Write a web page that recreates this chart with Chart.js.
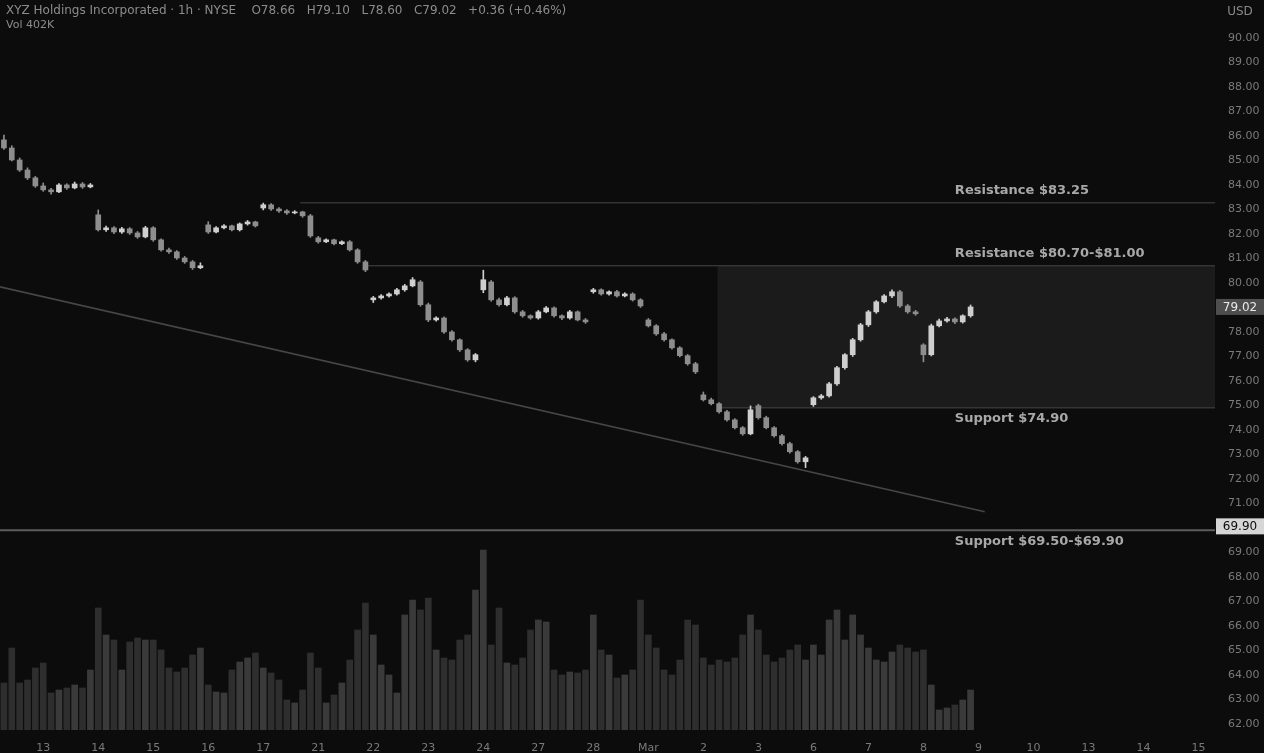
<!DOCTYPE html>
<html>
<head>
<meta charset="utf-8">
<script src="https://cdn.jsdelivr.net/npm/chart.js@4.4.0/dist/chart.umd.min.js"></script>
<style>
  html, body { margin: 0; padding: 0; background: #0c0c0c; overflow: hidden; }
  canvas { display: block; }
</style>
</head>
<body>
<canvas id="chart" width="1264" height="753"></canvas>
<script>
// hourly candles, 7 bars per session
const opens = [
  85.84,85.51,85.02,84.61,84.29,83.96,83.80,83.72,84.00,83.88,
  84.04,83.92,82.78,82.17,82.25,82.08,82.21,82.04,81.88,82.25,
  81.76,81.35,81.27,81.02,80.86,80.62,82.37,82.08,82.25,82.33,
  82.17,82.41,82.49,83.06,83.19,83.02,82.94,82.86,82.90,82.74,
  81.84,81.68,81.76,81.60,81.68,81.35,80.86,79.31,79.39,79.47,
  79.55,79.72,79.88,80.04,79.11,78.49,78.57,78.00,77.68,77.27,
  76.86,79.72,80.04,79.31,79.11,79.39,78.82,78.66,78.57,78.82,
  78.98,78.66,78.57,78.82,78.49,79.64,79.72,79.55,79.64,79.47,
  79.55,79.31,78.49,78.25,77.92,77.68,77.35,77.03,76.70,75.43,
  75.23,75.07,74.74,74.41,74.09,73.84,74.99,74.50,74.09,73.76,
  73.44,73.11,72.70,75.03,75.31,75.39,75.88,76.54,77.07,77.68,
  78.29,78.82,79.23,79.47,79.64,79.06,78.82,77.47,77.07,78.25,
  78.45,78.53,78.41,78.66
];
const highs = [
  86.04,85.60,85.10,84.70,84.35,84.08,83.86,84.06,84.05,84.12,
  84.10,84.06,82.98,82.32,82.30,82.27,82.26,82.10,82.31,82.30,
  81.80,81.42,81.32,81.08,80.92,80.82,82.50,82.30,82.38,82.36,
  82.45,82.55,82.52,83.26,83.24,83.08,82.99,82.95,82.93,82.80,
  81.90,81.80,81.79,81.72,81.73,81.40,80.92,79.45,79.52,79.60,
  79.78,79.94,80.22,80.10,79.18,78.62,78.62,78.05,77.72,77.32,
  77.12,80.52,80.10,79.38,79.45,79.44,78.88,78.70,78.88,79.04,
  79.02,78.70,78.88,78.86,78.55,79.78,79.76,79.68,79.70,79.60,
  79.60,79.36,78.55,78.30,77.98,77.72,77.40,77.08,76.76,75.55,
  75.30,75.12,74.80,74.46,74.14,74.98,75.05,74.56,74.14,73.82,
  73.50,73.16,72.92,75.36,75.45,75.94,76.60,77.12,77.74,78.35,
  78.88,79.28,79.52,79.72,79.70,79.12,78.88,77.52,78.32,78.52,
  78.60,78.58,78.70,79.10
];
const lows = [
  85.45,84.98,84.55,84.22,83.90,83.74,83.62,83.68,83.82,83.84,
  83.86,83.88,82.12,82.10,82.01,82.02,81.98,81.82,81.84,81.70,
  81.30,81.20,80.96,80.80,80.55,80.58,82.02,82.04,82.20,82.12,
  82.12,82.36,82.28,82.98,82.96,82.88,82.80,82.82,82.68,81.86,
  81.62,81.64,81.55,81.56,81.30,80.80,80.46,79.20,79.34,79.42,
  79.50,79.66,79.84,79.05,78.42,78.44,77.94,77.62,77.20,76.80,
  76.78,79.60,79.25,79.05,79.06,78.76,78.60,78.52,78.52,78.78,
  78.60,78.50,78.52,78.45,78.35,79.58,79.50,79.50,79.42,79.43,
  79.26,79.00,78.20,77.86,77.62,77.30,76.98,76.64,76.30,75.18,
  75.02,74.68,74.36,74.04,73.78,73.80,74.44,74.04,73.70,73.38,
  73.05,72.64,72.46,74.96,75.25,75.34,75.82,76.48,77.00,77.62,
  78.22,78.76,79.18,79.40,79.00,78.76,78.68,76.78,77.02,78.20,
  78.40,78.34,78.36,78.60
];
const closes = [
  85.51,85.02,84.61,84.29,83.96,83.80,83.72,84.00,83.88,84.04,
  83.92,84.00,82.17,82.25,82.08,82.21,82.04,81.88,82.25,81.76,
  81.35,81.27,81.02,80.86,80.62,80.70,82.08,82.25,82.33,82.17,
  82.41,82.49,82.33,83.19,83.02,82.94,82.86,82.90,82.74,81.92,
  81.68,81.76,81.60,81.68,81.35,80.86,80.53,79.39,79.47,79.55,
  79.72,79.88,80.13,79.11,78.49,78.57,78.00,77.68,77.27,76.86,
  77.07,80.13,79.31,79.11,79.39,78.82,78.66,78.57,78.82,78.98,
  78.66,78.57,78.82,78.49,78.41,79.72,79.55,79.64,79.47,79.55,
  79.31,79.06,78.25,77.92,77.68,77.35,77.03,76.70,76.37,75.23,
  75.07,74.74,74.41,74.09,73.84,74.82,74.50,74.09,73.76,73.44,
  73.11,72.70,72.86,75.31,75.39,75.88,76.54,77.07,77.68,78.29,
  78.82,79.23,79.47,79.64,79.06,78.82,78.74,77.07,78.25,78.45,
  78.53,78.41,78.66,79.02
];
// volume in thousands
const volumes = [
  470,820,470,500,620,670,370,400,420,450,
  420,600,1220,950,900,600,880,920,900,900,
  800,620,580,620,750,820,450,380,370,600,
  680,720,770,620,570,500,300,270,400,770,
  620,270,350,470,700,1000,1270,950,650,550,
  370,1150,1300,1200,1320,800,720,700,900,950,
  1400,1800,850,1220,670,650,720,1000,1100,1080,
  600,550,580,570,600,1150,800,750,520,550,
  600,1300,950,820,600,550,700,1100,1050,720,
  650,700,680,720,950,1150,1000,750,680,720,
  800,850,700,850,750,1100,1200,900,1150,950,
  820,700,680,780,850,820,780,800,450,200,
  220,250,300,400
];

const dayLabels = ['13','14','15','16','17','21','22','23','24','27','28','Mar',
                   '2','3','6','7','8','9','10','13','14','15'];
const firstDayBar = 5;
const barsPerDay = 7;
const priceTicks = [62,63,64,65,66,67,68,69,70,71,72,73,74,75,76,77,78,79,80,81,82,83,84,85,86,87,88,89,90];

// drawn levels
const levelPrices = [83.27, 80.70, 74.90, 69.90];
const levelTexts = ['Resistance $83.25', 'Resistance $80.70-$81.00', 'Support $74.90', 'Support $69.50-$69.90'];
const levelStarts = [37.7, 45.9, 90.8, -0.5];
const zoneTop = 80.70, zoneBottom = 74.90, zoneStart = 90.8;
const trendX = [-0.5, 124.8];
const trendY = [79.84, 70.66];

const headerText = 'XYZ Holdings Incorporated · 1h · NYSE    O78.66   H79.10   L78.60   C79.02   +0.36 (+0.46%)';
const volText = 'Vol 402K';

const FONT = '"DejaVu Sans", "Liberation Sans", sans-serif';
const UP = '#cfcfcf', DOWN = '#8e8e8e';

const bodies = opens.map((o, i) => ({ x: i, y: [o, closes[i]] }));
const wicks = lows.map((l, i) => ({ x: i, y: [l, highs[i]] }));
const vols = volumes.map((v, i) => ({ x: i, y: v }));
const candleColor = c => closes[c.dataIndex] >= opens[c.dataIndex] ? UP : DOWN;

const levelSets = levelPrices.map((p, k) => ({
  type: 'line',
  data: [{ x: levelStarts[k], y: p }, { x: 154.1, y: p }],
  borderColor: k === 3 ? '#5c5c5c' : '#474747',
  borderWidth: k === 3 ? 2 : 1,
  pointRadius: 0,
  order: 1
}));

const overlay = {
  id: 'overlay',
  beforeDatasetsDraw(chart) {
    const { ctx, chartArea, scales: { x, y } } = chart;
    const x0 = x.getPixelForValue(zoneStart);
    const y0 = y.getPixelForValue(zoneTop);
    const y1 = y.getPixelForValue(zoneBottom);
    ctx.save();
    ctx.fillStyle = '#1b1b1b';
    ctx.fillRect(x0, y0, chartArea.right - x0, y1 - y0);
    ctx.restore();
  },
  afterDraw(chart) {
    const { ctx, chartArea, scales: { x, y } } = chart;
    ctx.save();
    // level captions
    ctx.font = 'bold 13px ' + FONT;
    ctx.fillStyle = '#a8a8a8';
    ctx.textBaseline = 'middle';
    ctx.textAlign = 'left';
    const lx = x.getPixelForValue(121);
    levelTexts.forEach((t, k) => {
      const py = y.getPixelForValue(levelPrices[k]);
      ctx.fillText(t, lx, t.startsWith('Resistance') ? py - 12 : py + 11);
    });
    // price labels on the axis
    ctx.font = '12px ' + FONT;
    ctx.textAlign = 'center';
    const last = closes[closes.length - 1];
    let py = y.getPixelForValue(last);
    ctx.fillStyle = '#4e4e4e';
    ctx.fillRect(chartArea.right + 1, py - 8, 48, 16);
    ctx.fillStyle = '#e8e8e8';
    ctx.fillText(last.toFixed(2), chartArea.right + 25, py + 1);
    py = y.getPixelForValue(levelPrices[3]);
    ctx.fillStyle = '#d6d6d6';
    ctx.fillRect(chartArea.right + 1, py - 12, 48, 16);
    ctx.fillStyle = '#0c0c0c';
    ctx.fillText(levelPrices[3].toFixed(2), chartArea.right + 25, py - 3);
    ctx.fillStyle = '#8a8a8a';
    ctx.fillText('USD', chartArea.right + 25, 12);
    // header
    ctx.textAlign = 'left';
    ctx.fillStyle = '#8c8c8c';
    ctx.fillText(headerText, 6, 11);
    ctx.font = '11px ' + FONT;
    ctx.fillText(volText, 6, 25);
    ctx.restore();
  }
};

new Chart(document.getElementById('chart'), {
  type: 'bar',
  data: {
    datasets: [
      {
        data: wicks, backgroundColor: candleColor, barThickness: 1,
        grouped: false, order: 0
      },
      {
        data: bodies, backgroundColor: candleColor, barThickness: 5,
        grouped: false, order: 0
      },
      ...levelSets,
      {
        type: 'line',
        data: trendX.map((v, i) => ({ x: v, y: trendY[i] })),
        borderColor: '#464646', borderWidth: 1.5, pointRadius: 0, order: 1
      },
      {
        data: vols, yAxisID: 'vol', barThickness: 6, grouped: false, order: 2,
        backgroundColor: c => closes[c.dataIndex] >= opens[c.dataIndex] ? '#3a3a3a' : '#2e2e2e'
      }
    ]
  },
  options: {
    responsive: false,
    animation: false,
    layout: { padding: 0 },
    plugins: { legend: { display: false }, tooltip: { enabled: false } },
    scales: {
      x: {
        type: 'linear', min: -0.5, max: 154.1, offset: false,
        grid: { display: false }, border: { display: false },
        afterBuildTicks: s => { s.ticks = dayLabels.map((d, k) => ({ value: firstDayBar + k * barsPerDay })); },
        afterFit: s => { s.height = 23; s.paddingLeft = 0; s.paddingRight = 0; },
        ticks: {
          autoSkip: false, maxRotation: 0, padding: 4,
          color: '#7a7a7a', font: { size: 11, family: FONT },
          callback: (v, i) => dayLabels[i]
        }
      },
      y: {
        position: 'right', min: 61.75, max: 91.55,
        grid: { display: false }, border: { display: false },
        afterBuildTicks: s => { s.ticks = priceTicks.map(v => ({ value: v })); },
        afterFit: s => { s.width = 49; s.paddingTop = 0; s.paddingBottom = 0; },
        ticks: {
          padding: 5, color: '#7a7a7a', font: { size: 11, family: FONT },
          callback: v => v.toFixed(2)
        }
      },
      vol: { display: false, min: 0, max: 7300 }
    }
  },
  plugins: [overlay]
});
</script>
</body>
</html>
